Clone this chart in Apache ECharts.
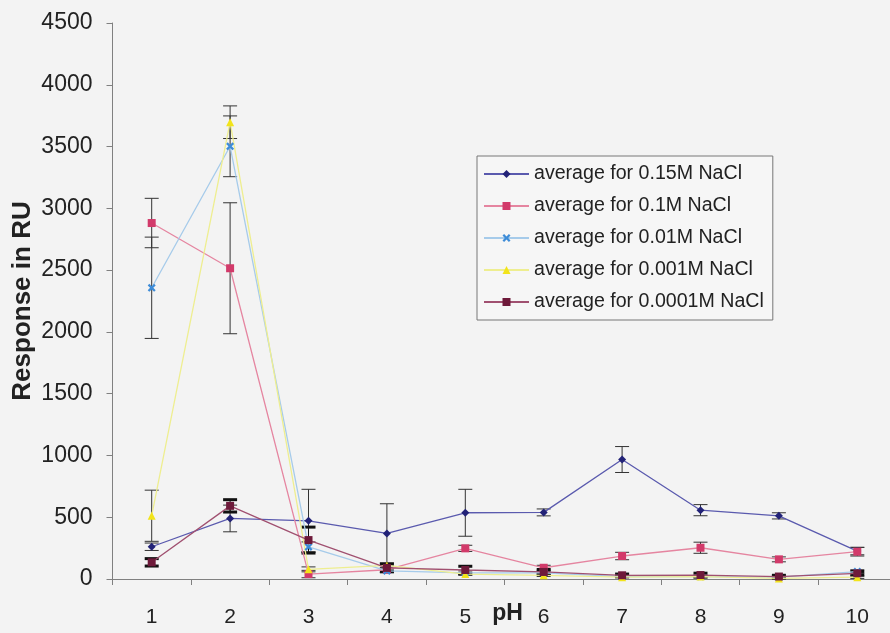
<!DOCTYPE html>
<html>
<head>
<meta charset="utf-8">
<script src="https://cdn.jsdelivr.net/npm/echarts@6/dist/echarts.min.js"></script>
<style>html,body{margin:0;padding:0;background:#f3f3f3;}#c{width:890px;height:633px;}</style>
</head>
<body>
<div id="c"></div>
<script>
const phLabels = ['1','2','3','4','5','6','7','8','9','10'];
const yTicks = [0,500,1000,1500,2000,2500,3000,3500,4000,4500];
const names = ['average for 0.15M NaCl','average for 0.1M NaCl','average for 0.01M NaCl','average for 0.001M NaCl','average for 0.0001M NaCl'];
const avg015 = [261, 490, 471, 369, 536, 539, 967, 557, 511, 226];
const err015 = [30, 108, 255, 240, 190, 28, 105, 45, 25, 30];
const avg01 = [2881, 2515, 40, 75, 248, 91, 186, 253, 159, 221];
const err01 = [200, 530, 30, 20, 25, 20, 30, 45, 20, 35];
const avg001 = [2357, 3502, 260, 65, 50, 50, 20, 20, 15, 60];
const err001 = [410, 246, 40, 15, 15, 10, 10, 10, 10, 15];
const avg0001 = [512, 3697, 78, 110, 40, 30, 15, 20, 5, 15];
const err0001 = [207, 132, 20, 20, 10, 10, 5, 10, 5, 10];
const avg00001 = [135, 592, 315, 90, 73, 57, 30, 32, 20, 46];
const err00001 = [30, 50, 105, 30, 30, 20, 10, 15, 10, 15];

const FONT = '"Liberation Sans", Arial, sans-serif';
const avgs = [avg015, avg01, avg001, avg0001, avg00001];
const errs = [err015, err01, err001, err0001, err00001];
const lineColors = ['#5a5aae', '#e585a0', '#a6cbea', '#eeee90', '#a05070'];
const markColors = ['#222277', '#d23a6a', '#3d8cd8', '#f2e41a', '#6e1a3a'];
const xPath = 'path://M0,2 L2,0 L5,3 L8,0 L10,2 L7,5 L10,8 L8,10 L5,7 L2,10 L0,8 L3,5 Z';
const symbols = ['diamond', 'rect', xPath, 'triangle', 'rect'];
const symSizes = [8, 8, 8, 8, 8];
const errColors = ['#333', '#333', '#333', '#333', '#111'];
const errWidths = [1, 1, 1, 1, 3];

const series = [];
avgs.forEach((a, k) => {
  series.push({
    type: 'custom',
    name: names[k] + ' err',
    z: 1,
    silent: true,
    data: a.map((v, i) => [i, v - errs[k][i], v + errs[k][i]]),
    encode: {x: 0, y: [1, 2]},
    renderItem: function (params, api) {
      const i = api.value(0);
      const lo = api.coord([i, api.value(1)]);
      const hi = api.coord([i, api.value(2)]);
      const hw = 7;
      const st = {stroke: errColors[k], lineWidth: errWidths[k], fill: null};
      return {
        type: 'group',
        children: [
          {type: 'line', shape: {x1: lo[0], y1: lo[1], x2: hi[0], y2: hi[1]}, style: {stroke: errColors[k], lineWidth: 1}},
          {type: 'line', shape: {x1: lo[0] - hw, y1: lo[1], x2: lo[0] + hw, y2: lo[1]}, style: st},
          {type: 'line', shape: {x1: hi[0] - hw, y1: hi[1], x2: hi[0] + hw, y2: hi[1]}, style: st}
        ]
      };
    }
  });
});
avgs.forEach((a, k) => {
  series.push({
    type: 'line',
    name: names[k],
    z: 3,
    data: a,
    symbol: symbols[k],
    symbolSize: symSizes[k],
    showAllSymbol: true,
    lineStyle: {color: lineColors[k], width: 1.3},
    itemStyle: {color: markColors[k], borderWidth: 0},
    emphasis: {disabled: true}
  });
});

const chart = echarts.init(document.getElementById('c'), null, {renderer: 'canvas'});
chart.setOption({
  backgroundColor: '#f3f3f3',
  animation: false,
  textStyle: {fontFamily: FONT},
  grid: {left: 112.5, top: 23, width: 784, bottom: 54, containLabel: false, outerBoundsMode: 'none'},
  legend: {
    data: names,
    orient: 'vertical',
    left: 477,
    top: 156,
    padding: [8, 9, 8, 6],
    itemGap: 12,
    itemWidth: 45,
    itemHeight: 10,
    itemTextGap: 7,
    backgroundColor: '#f6f6f6',
    borderColor: '#777',
    borderWidth: 1,
    borderRadius: 0,
    textStyle: {fontSize: 19.6, color: '#222', fontFamily: FONT}
  },
  xAxis: {
    type: 'category',
    data: phLabels,
    boundaryGap: true,
    name: 'pH',
    nameLocation: 'middle',
    nameGap: 23,
    nameMoveOverlap: false,
    nameTextStyle: {fontSize: 23, fontWeight: 'bold', color: '#222', fontFamily: FONT, verticalAlign: 'top', padding: [0, 0, 0, 6]},
    axisLine: {lineStyle: {color: '#808080', width: 1}},
    axisTick: {show: true, length: 6, lineStyle: {color: '#808080'}},
    axisLabel: {fontSize: 21, color: '#222', margin: 28, fontFamily: FONT},
    splitLine: {show: false}
  },
  yAxis: {
    type: 'value',
    min: yTicks[0],
    max: yTicks[yTicks.length - 1],
    interval: 500,
    name: 'Response in RU',
    nameLocation: 'middle',
    nameGap: 77,
    nameMoveOverlap: false,
    nameTextStyle: {fontSize: 26, fontWeight: 'bold', color: '#222', fontFamily: FONT},
    axisLine: {show: true, lineStyle: {color: '#808080', width: 1}},
    axisTick: {show: true, length: 6, lineStyle: {color: '#808080'}},
    axisLabel: {fontSize: 23, color: '#222', margin: 20, fontFamily: FONT, formatter: function (v) { return String(v); }},
    splitLine: {show: false}
  },
  series: series
});
</script>
</body>
</html>
